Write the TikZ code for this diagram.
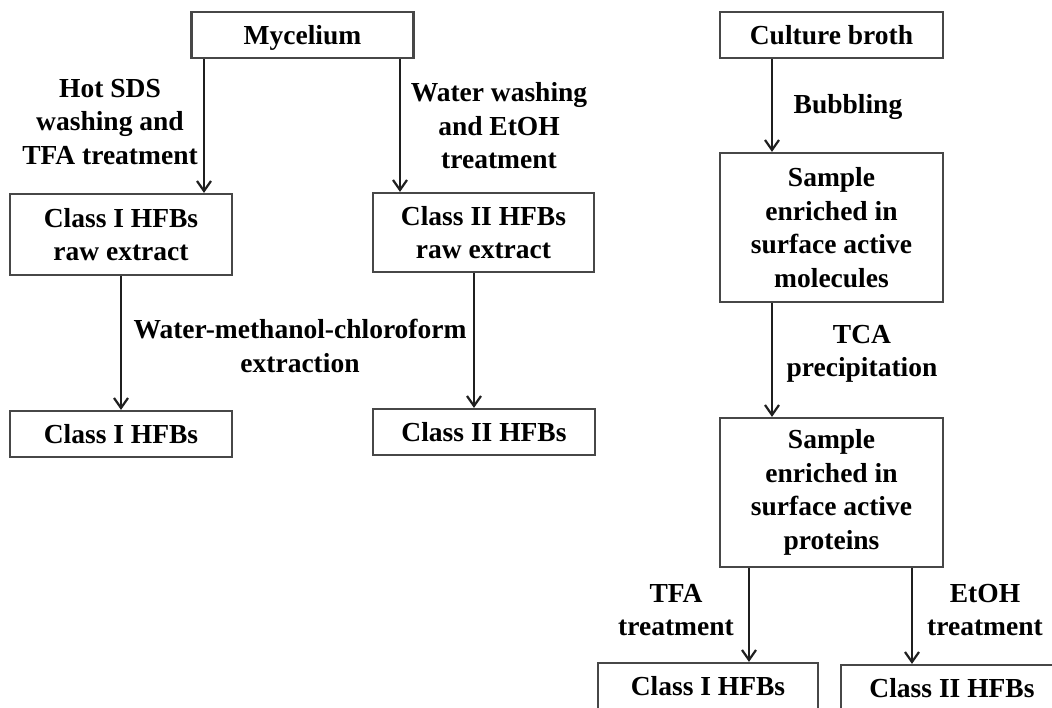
\documentclass[tikz,border=0pt]{standalone}
\usepackage{fontspec}
\setmainfont{Liberation Serif}
\usetikzlibrary{arrows.meta}
\tikzset{
  base/.style={font=\bfseries\fontsize{27.5}{33.5}\selectfont, align=center, inner sep=0pt},
  box/.style={base, draw=black!72, line width=2.2pt, minimum width=222pt, minimum height=46pt},
  lab/.style={base},
  arr/.style={line width=2.4pt, draw=black!88, -{Straight Barb[length=10pt, width=14pt, line width=2.2pt]}}
}
\begin{document}
\begin{tikzpicture}[x=1pt, y=-1pt]
\useasboundingbox (0,0) rectangle (1052,707);
\clip (0,0) rectangle (1052,707);
\fill[white] (0,0) rectangle (1052,707);
% left part
\node[box, text depth=0pt] (myc) at (302.5,35) {Mycelium};
\node[box, minimum height=81pt] (raw1) at (121,234.5) {Class I HFBs\\raw extract};
\node[box, minimum width=221pt, minimum height=79pt] (raw2) at (483.5,232.5) {Class II HFBs\\raw extract};
\node[box] (hfb1) at (121,434) {Class I HFBs};
\node[box] (hfb2) at (484,432) {Class II HFBs};
% right part
\node[box, minimum width=223pt] (broth) at (831.5,35) {Culture broth};
\node[box, minimum width=223pt, minimum height=149pt] (samp1) at (831.5,227.5) {Sample\\enriched in\\surface active\\molecules};
\node[box, minimum width=223pt, minimum height=149pt] (samp2) at (831.5,492.5) {Sample\\enriched in\\surface active\\proteins};
\node[box, minimum width=220pt] (rhfb1) at (708,686) {Class I HFBs};
\node[box] (rhfb2) at (952,688) {Class II HFBs};
% labels
\node[lab] (l1) at (110,122) {Hot SDS\\washing and\\TFA treatment};
\node[lab] (l2) at (499,126) {Water washing\\and EtOH\\treatment};
\node[lab] (l3) at (300,346) {Water-methanol-chloroform\\extraction};
\node[lab] (l4) at (848,107) {Bubbling};
\node[lab] (l5) at (862,354) {TCA\\precipitation};
\node[lab] (l6) at (676,610) {TFA\\treatment};
\node[lab] (l7) at (985,610) {EtOH\\treatment};
% arrows
\draw[arr] ([xshift=-98.5pt]myc.south) -- ([xshift=83pt]raw1.north);
\draw[arr] ([xshift=97.5pt]myc.south) -- ([xshift=-83.5pt]raw2.north);
\draw[arr] (raw1.south) -- (hfb1.north);
\draw[arr] ([xshift=-9.5pt]raw2.south) -- ([xshift=-10pt]hfb2.north);
\draw[arr] ([xshift=-59.5pt]broth.south) -- ([xshift=-59.5pt]samp1.north);
\draw[arr] ([xshift=-59.5pt]samp1.south) -- ([xshift=-59.5pt]samp2.north);
\draw[arr] ([xshift=-82.5pt]samp2.south) -- ([xshift=41pt]rhfb1.north);
\draw[arr] ([xshift=80.5pt]samp2.south) -- ([xshift=-40pt]rhfb2.north);
\end{tikzpicture}
\end{document}
